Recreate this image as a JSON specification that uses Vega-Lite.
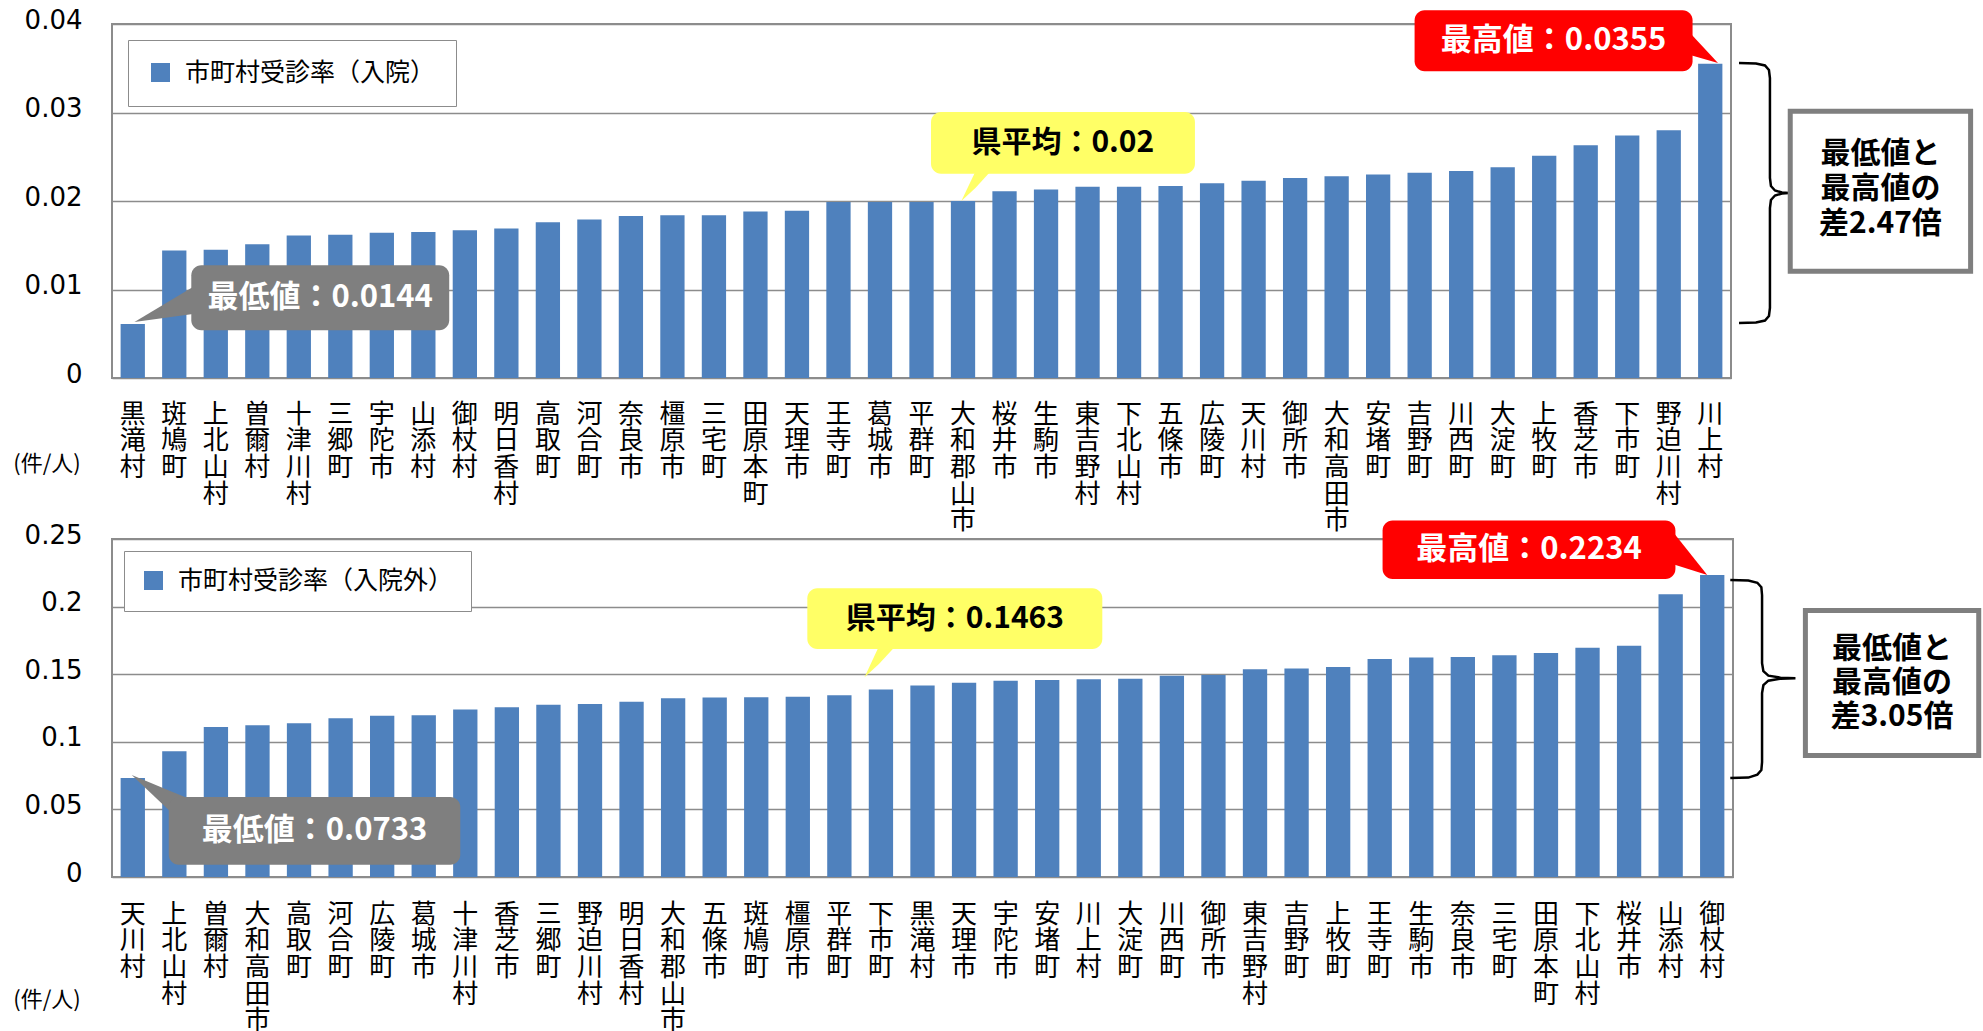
{
  "$schema": "https://vega.github.io/schema/vega-lite/v6.json",
  "autosize": {"type": "pad"},
  "padding": {"left": 12, "top": 6, "right": 0, "bottom": 0},
  "background": "white",
  "spacing": 161,
  "bounds": "flush",
  "resolve": {"scale": {"color": "independent"}, "legend": {"color": "independent"}},
  "config": {
    "view": {"stroke": "#8c8c8c", "strokeWidth": 2},
    "text": {"font": "Noto Sans CJK JP"}
  },
  "vconcat": [
    {
      "width": 1619,
      "height": 354,
      "resolve": {"scale": {"x": "independent"}},
      "layer": [
        {
          "data": {"values": [
            {"name": "黒滝村", "v": 0.0061},
            {"name": "斑鳩町", "v": 0.0144},
            {"name": "上北山村", "v": 0.0145},
            {"name": "曽爾村", "v": 0.0151},
            {"name": "十津川村", "v": 0.0161},
            {"name": "三郷町", "v": 0.0162},
            {"name": "宇陀市", "v": 0.0164},
            {"name": "山添村", "v": 0.0165},
            {"name": "御杖村", "v": 0.0167},
            {"name": "明日香村", "v": 0.0169},
            {"name": "高取町", "v": 0.0176},
            {"name": "河合町", "v": 0.0179},
            {"name": "奈良市", "v": 0.0183},
            {"name": "橿原市", "v": 0.0184},
            {"name": "三宅町", "v": 0.0184},
            {"name": "田原本町", "v": 0.0188},
            {"name": "天理市", "v": 0.0189},
            {"name": "王寺町", "v": 0.0199},
            {"name": "葛城市", "v": 0.0199},
            {"name": "平群町", "v": 0.0199},
            {"name": "大和郡山市", "v": 0.0200},
            {"name": "桜井市", "v": 0.0211},
            {"name": "生駒市", "v": 0.0213},
            {"name": "東吉野村", "v": 0.0216},
            {"name": "下北山村", "v": 0.0216},
            {"name": "五條市", "v": 0.0217},
            {"name": "広陵町", "v": 0.0220},
            {"name": "天川村", "v": 0.0223},
            {"name": "御所市", "v": 0.0226},
            {"name": "大和高田市", "v": 0.0228},
            {"name": "安堵町", "v": 0.0230},
            {"name": "吉野町", "v": 0.0232},
            {"name": "川西町", "v": 0.0234},
            {"name": "大淀町", "v": 0.0238},
            {"name": "上牧町", "v": 0.0251},
            {"name": "香芝市", "v": 0.0263},
            {"name": "下市町", "v": 0.0274},
            {"name": "野迫川村", "v": 0.0280},
            {"name": "川上村", "v": 0.0355}
          ]},
          "mark": {"type": "bar", "color": "#4F81BD"},
          "encoding": {
            "x": {"field": "name", "type": "nominal", "sort": null, "title": null,
              "scale": {"paddingInner": 0.415, "paddingOuter": 0.2075},
              "axis": {"labelAngle": 0, "labelExpr": "split(datum.label, '')", "labelFont": "Noto Sans CJK JP", "labelFontSize": 26, "labelLineHeight": 26.7, "labelBaseline": "top", "labelAlign": "center", "labelPadding": 23, "labelColor": "#000000", "ticks": false, "domain": false, "grid": false, "labelOverlap": false, "labelFlush": false, "labelLimit": 0, "title": null}},
            "y": {"field": "v", "type": "quantitative", "title": null,
              "scale": {"domain": [0, 0.04], "nice": false, "zero": true},
              "axis": {"values": [0, 0.01, 0.02, 0.03, 0.04], "format": "~g", "labelFont": "DejaVu Sans", "labelFontSize": 26, "labelColor": "#000000", "labelPadding": 30, "labelOffset": -4, "ticks": false, "domain": false, "grid": true, "gridColor": "#8c8c8c", "gridWidth": 1.5, "title": null}},
            "color": {"datum": "市町村受診率（入院）", "type": "nominal",
              "scale": {"range": ["#4F81BD"]},
              "legend": {"orient": "top-left", "offset": 16, "title": null, "symbolType": "square", "symbolSize": 361, "symbolStrokeWidth": 0, "labelFont": "Noto Sans CJK JP", "labelFontSize": 25, "labelColor": "#000000", "labelLimit": 600, "labelOffset": 12, "padding": 20, "strokeColor": "#8c8c8c", "fillColor": "#ffffff"}}
          }
        },
        {"mark": {"type": "rule", "color": "#ff0000", "strokeWidth": 4}, "encoding": {"y": {"datum": 0.02, "type": "quantitative"}}},
        {"mark": {"type": "rule", "color": "#ff0000", "strokeWidth": 3.5, "strokeDash": [16, 13]}, "encoding": {"y": {"datum": 0.0355, "type": "quantitative"}}},
        {"mark": {"type": "rule", "color": "#ff0000", "strokeWidth": 3.5, "strokeDash": [17, 12, 4, 12]}, "encoding": {"y": {"datum": 0.0061, "type": "quantitative"}}},
        {
          "data": {"values": [
            {"x": 0.541, "y": 0.006328, "y2": 0.006328},
            {"x": 1.949, "y": 0.010282, "y2": 0.007232}
          ]},
          "mark": {"type": "area", "color": "#7f7f7f"},
          "encoding": {
            "x": {"field": "x", "type": "quantitative", "scale": {"domain": [0, 39], "nice": false, "zero": false}, "axis": null},
            "y": {"field": "y", "type": "quantitative", "scale": {"domain": [0, 0.04], "nice": false}, "title": null},
            "y2": {"field": "y2"}
          }
        },
        {
          "data": {"values": [{"x": 1.910, "x2": 8.123, "y": 0.012734, "y2": 0.005390}]},
          "mark": {"type": "rect", "color": "#7f7f7f", "cornerRadius": 10},
          "encoding": {
            "x": {"field": "x", "type": "quantitative", "scale": {"domain": [0, 39], "nice": false, "zero": false}, "axis": null},
            "x2": {"field": "x2"},
            "y": {"field": "y", "type": "quantitative", "scale": {"domain": [0, 0.04], "nice": false}, "title": null},
            "y2": {"field": "y2"}
          }
        },
        {
          "data": {"values": [
            {"x": 20.460, "y": 0.020000, "y2": 0.020000},
            {"x": 20.804, "y": 0.023390, "y2": 0.021492},
            {"x": 21.172, "y": 0.023390, "y2": 0.023390}
          ]},
          "mark": {"type": "area", "color": "#ffff66"},
          "encoding": {
            "x": {"field": "x", "type": "quantitative", "scale": {"domain": [0, 39], "nice": false, "zero": false}, "axis": null},
            "y": {"field": "y", "type": "quantitative", "scale": {"domain": [0, 0.04], "nice": false}, "title": null},
            "y2": {"field": "y2"}
          }
        },
        {
          "data": {"values": [{"x": 19.729, "x2": 26.087, "y": 0.030056, "y2": 0.023085}]},
          "mark": {"type": "rect", "color": "#ffff66", "cornerRadius": 10},
          "encoding": {
            "x": {"field": "x", "type": "quantitative", "scale": {"domain": [0, 39], "nice": false, "zero": false}, "axis": null},
            "x2": {"field": "x2"},
            "y": {"field": "y", "type": "quantitative", "scale": {"domain": [0, 0.04], "nice": false}, "title": null},
            "y2": {"field": "y2"}
          }
        },
        {
          "data": {"values": [
            {"x": 38.014, "y": 0.038983, "y2": 0.036497},
            {"x": 38.687, "y": 0.035593, "y2": 0.035593}
          ]},
          "mark": {"type": "area", "color": "#ff0000"},
          "encoding": {
            "x": {"field": "x", "type": "quantitative", "scale": {"domain": [0, 39], "nice": false, "zero": false}, "axis": null},
            "y": {"field": "y", "type": "quantitative", "scale": {"domain": [0, 0.04], "nice": false}, "title": null},
            "y2": {"field": "y2"}
          }
        },
        {
          "data": {"values": [{"x": 31.378, "x2": 38.074, "y": 0.041548, "y2": 0.034667}]},
          "mark": {"type": "rect", "color": "#ff0000", "cornerRadius": 10},
          "encoding": {
            "x": {"field": "x", "type": "quantitative", "scale": {"domain": [0, 39], "nice": false, "zero": false}, "axis": null},
            "x2": {"field": "x2"},
            "y": {"field": "y", "type": "quantitative", "scale": {"domain": [0, 0.04], "nice": false}, "title": null},
            "y2": {"field": "y2"}
          }
        },
        {
          "data": {"values": [
            {"x": 5.014, "y": 0.009062, "t": "最低値：0.0144"},
            {"x": 34.727, "y": 0.038113, "t": "最高値：0.0355"}
          ]},
          "mark": {"type": "text", "font": "Noto Sans CJK JP", "fontWeight": "bold", "fontSize": 31, "color": "#ffffff", "align": "center", "baseline": "middle"},
          "encoding": {
            "x": {"field": "x", "type": "quantitative", "scale": {"domain": [0, 39], "nice": false, "zero": false}, "axis": null},
            "y": {"field": "y", "type": "quantitative", "scale": {"domain": [0, 0.04], "nice": false}, "title": null},
            "text": {"field": "t"}
          }
        },
        {
          "data": {"values": [{"x": 22.904, "y": 0.026576, "t": "県平均：0.02"}]},
          "mark": {"type": "text", "font": "Noto Sans CJK JP", "fontWeight": "bold", "fontSize": 30, "color": "#000000", "align": "center", "baseline": "middle"},
          "encoding": {
            "x": {"field": "x", "type": "quantitative", "scale": {"domain": [0, 39], "nice": false, "zero": false}, "axis": null},
            "y": {"field": "y", "type": "quantitative", "scale": {"domain": [0, 0.04], "nice": false}, "title": null},
            "text": {"field": "t"}
          }
        },
        {
          "data": {"values": [
            {"o": 1, "x": 39.193, "y": 0.035593},
            {"o": 2, "x": 39.602, "y": 0.035537},
            {"o": 3, "x": 39.818, "y": 0.035311},
            {"o": 4, "x": 39.914, "y": 0.034802},
            {"o": 5, "x": 39.938, "y": 0.033898},
            {"o": 6, "x": 39.938, "y": 0.022599},
            {"o": 7, "x": 39.962, "y": 0.021695},
            {"o": 8, "x": 40.059, "y": 0.021186},
            {"o": 9, "x": 40.227, "y": 0.020960},
            {"o": 10, "x": 40.396, "y": 0.020904},
            {"o": 11, "x": 40.227, "y": 0.020847},
            {"o": 12, "x": 40.059, "y": 0.020621},
            {"o": 13, "x": 39.962, "y": 0.020113},
            {"o": 14, "x": 39.938, "y": 0.019209},
            {"o": 15, "x": 39.938, "y": 0.007910},
            {"o": 16, "x": 39.914, "y": 0.007006},
            {"o": 17, "x": 39.818, "y": 0.006497},
            {"o": 18, "x": 39.602, "y": 0.006271},
            {"o": 19, "x": 39.193, "y": 0.006215}
          ]},
          "mark": {"type": "line", "color": "#000000", "strokeWidth": 2.5},
          "encoding": {
            "x": {"field": "x", "type": "quantitative", "scale": {"domain": [0, 39], "nice": false, "zero": false}, "axis": null},
            "y": {"field": "y", "type": "quantitative", "scale": {"domain": [0, 0.04], "nice": false}, "title": null},
            "order": {"field": "o", "type": "quantitative"}
          }
        },
        {
          "data": {"values": [{"x": 40.427, "x2": 44.772, "y": 0.030135, "y2": 0.012056}]},
          "mark": {"type": "rect", "fill": "#ffffff", "stroke": "#7f7f7f", "strokeWidth": 5},
          "encoding": {
            "x": {"field": "x", "type": "quantitative", "scale": {"domain": [0, 39], "nice": false, "zero": false}, "axis": null},
            "x2": {"field": "x2"},
            "y": {"field": "y", "type": "quantitative", "scale": {"domain": [0, 0.04], "nice": false}, "title": null},
            "y2": {"field": "y2"}
          }
        },
        {
          "data": {"values": [{"x": 42.599, "y": 0.025344}]},
          "mark": {"type": "text", "font": "Noto Sans CJK JP", "fontWeight": "bold", "fontSize": 30, "lineHeight": 35, "color": "#000000", "align": "center", "baseline": "middle"},
          "encoding": {
            "x": {"field": "x", "type": "quantitative", "scale": {"domain": [0, 39], "nice": false, "zero": false}, "axis": null},
            "y": {"field": "y", "type": "quantitative", "scale": {"domain": [0, 0.04], "nice": false}, "title": null},
            "text": {"value": ["最低値と", "最高値の", "差2.47倍"]}
          }
        },
        {
          "data": {"values": [{"x": -1.566, "y": -0.009684, "t": "(件/人)"}]},
          "mark": {"type": "text", "font": "Noto Sans CJK JP", "fontSize": 22, "color": "#000000", "align": "center", "baseline": "middle"},
          "encoding": {
            "x": {"field": "x", "type": "quantitative", "scale": {"domain": [0, 39], "nice": false, "zero": false}, "axis": null},
            "y": {"field": "y", "type": "quantitative", "scale": {"domain": [0, 0.04], "nice": false}, "title": null},
            "text": {"field": "t"}
          }
        }
      ]
    },
    {
      "width": 1621,
      "height": 338,
      "resolve": {"scale": {"x": "independent"}},
      "layer": [
        {
          "data": {"values": [
            {"name": "天川村", "v": 0.0733},
            {"name": "上北山村", "v": 0.0931},
            {"name": "曽爾村", "v": 0.1109},
            {"name": "大和高田市", "v": 0.1123},
            {"name": "高取町", "v": 0.1138},
            {"name": "河合町", "v": 0.1175},
            {"name": "広陵町", "v": 0.1192},
            {"name": "葛城市", "v": 0.1197},
            {"name": "十津川村", "v": 0.1239},
            {"name": "香芝市", "v": 0.1256},
            {"name": "三郷町", "v": 0.1274},
            {"name": "野迫川村", "v": 0.1279},
            {"name": "明日香村", "v": 0.1296},
            {"name": "大和郡山市", "v": 0.1322},
            {"name": "五條市", "v": 0.1328},
            {"name": "斑鳩町", "v": 0.1330},
            {"name": "橿原市", "v": 0.1333},
            {"name": "平群町", "v": 0.1345},
            {"name": "下市町", "v": 0.1387},
            {"name": "黒滝村", "v": 0.1417},
            {"name": "天理市", "v": 0.1436},
            {"name": "宇陀市", "v": 0.1452},
            {"name": "安堵町", "v": 0.1458},
            {"name": "川上村", "v": 0.1462},
            {"name": "大淀町", "v": 0.1466},
            {"name": "川西町", "v": 0.1488},
            {"name": "御所市", "v": 0.1495},
            {"name": "東吉野村", "v": 0.1537},
            {"name": "吉野町", "v": 0.1542},
            {"name": "上牧町", "v": 0.1554},
            {"name": "王寺町", "v": 0.1613},
            {"name": "生駒市", "v": 0.1623},
            {"name": "奈良市", "v": 0.1628},
            {"name": "三宅町", "v": 0.1641},
            {"name": "田原本町", "v": 0.1656},
            {"name": "下北山村", "v": 0.1695},
            {"name": "桜井市", "v": 0.1710},
            {"name": "山添村", "v": 0.2092},
            {"name": "御杖村", "v": 0.2234}
          ]},
          "mark": {"type": "bar", "color": "#4F81BD"},
          "encoding": {
            "x": {"field": "name", "type": "nominal", "sort": null, "title": null,
              "scale": {"paddingInner": 0.415, "paddingOuter": 0.2075},
              "axis": {"labelAngle": 0, "labelExpr": "split(datum.label, '')", "labelFont": "Noto Sans CJK JP", "labelFontSize": 26, "labelLineHeight": 26.7, "labelBaseline": "top", "labelAlign": "center", "labelPadding": 24, "labelColor": "#000000", "ticks": false, "domain": false, "grid": false, "labelOverlap": false, "labelFlush": false, "labelLimit": 0, "title": null}},
            "y": {"field": "v", "type": "quantitative", "title": null,
              "scale": {"domain": [0, 0.25], "nice": false, "zero": true},
              "axis": {"values": [0, 0.05, 0.1, 0.15, 0.2, 0.25], "format": "~g", "labelFont": "DejaVu Sans", "labelFontSize": 26, "labelColor": "#000000", "labelPadding": 30, "labelOffset": -4, "ticks": false, "domain": false, "grid": true, "gridColor": "#8c8c8c", "gridWidth": 1.5, "title": null}},
            "color": {"datum": "市町村受診率（入院外）", "type": "nominal",
              "scale": {"range": ["#4F81BD"]},
              "legend": {"orient": "top-left", "offset": 12, "title": null, "symbolType": "square", "symbolSize": 361, "symbolStrokeWidth": 0, "labelFont": "Noto Sans CJK JP", "labelFontSize": 25, "labelColor": "#000000", "labelLimit": 600, "labelOffset": 12, "padding": 17, "strokeColor": "#8c8c8c", "fillColor": "#ffffff"}}
          }
        },
        {"mark": {"type": "rule", "color": "#ff0000", "strokeWidth": 4}, "encoding": {"y": {"datum": 0.1463, "type": "quantitative"}}},
        {"mark": {"type": "rule", "color": "#ff0000", "strokeWidth": 3.5, "strokeDash": [16, 13]}, "encoding": {"y": {"datum": 0.2234, "type": "quantitative"}}},
        {"mark": {"type": "rule", "color": "#ff0000", "strokeWidth": 3.5, "strokeDash": [17, 12, 4, 12]}, "encoding": {"y": {"datum": 0.0733, "type": "quantitative"}}},
        {
          "data": {"values": [
            {"x": 0.475, "y": 0.075377, "y2": 0.075377},
            {"x": 1.415, "y": 0.048034, "y2": 0.063479},
            {"x": 1.872, "y": 0.057641, "y2": 0.057641}
          ]},
          "mark": {"type": "area", "color": "#7f7f7f"},
          "encoding": {
            "x": {"field": "x", "type": "quantitative", "scale": {"domain": [0, 39], "nice": false, "zero": false}, "axis": null},
            "y": {"field": "y", "type": "quantitative", "scale": {"domain": [0, 0.25], "nice": false}, "title": null},
            "y2": {"field": "y2"}
          }
        },
        {
          "data": {"values": [{"x": 1.366, "x2": 8.379, "y": 0.059119, "y2": 0.009090}]},
          "mark": {"type": "rect", "color": "#7f7f7f", "cornerRadius": 10},
          "encoding": {
            "x": {"field": "x", "type": "quantitative", "scale": {"domain": [0, 39], "nice": false, "zero": false}, "axis": null},
            "x2": {"field": "x2"},
            "y": {"field": "y", "type": "quantitative", "scale": {"domain": [0, 0.25], "nice": false}, "title": null},
            "y2": {"field": "y2"}
          }
        },
        {
          "data": {"values": [
            {"x": 18.105, "y": 0.147798, "y2": 0.147798},
            {"x": 18.452, "y": 0.170706, "y2": 0.157552},
            {"x": 18.847, "y": 0.170706, "y2": 0.170706}
          ]},
          "mark": {"type": "area", "color": "#ffff66"},
          "encoding": {
            "x": {"field": "x", "type": "quantitative", "scale": {"domain": [0, 39], "nice": false, "zero": false}, "axis": null},
            "y": {"field": "y", "type": "quantitative", "scale": {"domain": [0, 0.25], "nice": false}, "title": null},
            "y2": {"field": "y2"}
          }
        },
        {
          "data": {"values": [{"x": 16.729, "x2": 23.826, "y": 0.213568, "y2": 0.168711}]},
          "mark": {"type": "rect", "color": "#ffff66", "cornerRadius": 10},
          "encoding": {
            "x": {"field": "x", "type": "quantitative", "scale": {"domain": [0, 39], "nice": false, "zero": false}, "axis": null},
            "x2": {"field": "x2"},
            "y": {"field": "y", "type": "quantitative", "scale": {"domain": [0, 0.25], "nice": false}, "title": null},
            "y2": {"field": "y2"}
          }
        },
        {
          "data": {"values": [
            {"x": 37.562, "y": 0.254951, "y2": 0.231304},
            {"x": 38.381, "y": 0.223396, "y2": 0.223396}
          ]},
          "mark": {"type": "area", "color": "#ff0000"},
          "encoding": {
            "x": {"field": "x", "type": "quantitative", "scale": {"domain": [0, 39], "nice": false, "zero": false}, "axis": null},
            "y": {"field": "y", "type": "quantitative", "scale": {"domain": [0, 0.25], "nice": false}, "title": null},
            "y2": {"field": "y2"}
          }
        },
        {
          "data": {"values": [{"x": 30.569, "x2": 37.615, "y": 0.263597, "y2": 0.220440}]},
          "mark": {"type": "rect", "color": "#ff0000", "cornerRadius": 10},
          "encoding": {
            "x": {"field": "x", "type": "quantitative", "scale": {"domain": [0, 39], "nice": false, "zero": false}, "axis": null},
            "x2": {"field": "x2"},
            "y": {"field": "y", "type": "quantitative", "scale": {"domain": [0, 0.25], "nice": false}, "title": null},
            "y2": {"field": "y2"}
          }
        },
        {
          "data": {"values": [
            {"x": 4.873, "y": 0.034067, "t": "最低値：0.0733"},
            {"x": 34.092, "y": 0.242019, "t": "最高値：0.2234"}
          ]},
          "mark": {"type": "text", "font": "Noto Sans CJK JP", "fontWeight": "bold", "fontSize": 31, "color": "#ffffff", "align": "center", "baseline": "middle"},
          "encoding": {
            "x": {"field": "x", "type": "quantitative", "scale": {"domain": [0, 39], "nice": false, "zero": false}, "axis": null},
            "y": {"field": "y", "type": "quantitative", "scale": {"domain": [0, 0.25], "nice": false}, "title": null},
            "text": {"field": "t"}
          }
        },
        {
          "data": {"values": [{"x": 20.279, "y": 0.191177, "t": "県平均：0.1463"}]},
          "mark": {"type": "text", "font": "Noto Sans CJK JP", "fontWeight": "bold", "fontSize": 30, "color": "#000000", "align": "center", "baseline": "middle"},
          "encoding": {
            "x": {"field": "x", "type": "quantitative", "scale": {"domain": [0, 39], "nice": false, "zero": false}, "axis": null},
            "y": {"field": "y", "type": "quantitative", "scale": {"domain": [0, 0.25], "nice": false}, "title": null},
            "text": {"field": "t"}
          }
        },
        {
          "data": {"values": [
            {"o": 1, "x": 38.935, "y": 0.219701},
            {"o": 2, "x": 39.369, "y": 0.219332},
            {"o": 3, "x": 39.586, "y": 0.217632},
            {"o": 4, "x": 39.682, "y": 0.214307},
            {"o": 5, "x": 39.699, "y": 0.208395},
            {"o": 6, "x": 39.699, "y": 0.158144},
            {"o": 7, "x": 39.731, "y": 0.152232},
            {"o": 8, "x": 39.851, "y": 0.148906},
            {"o": 9, "x": 40.141, "y": 0.147428},
            {"o": 10, "x": 40.502, "y": 0.147059},
            {"o": 11, "x": 40.141, "y": 0.146689},
            {"o": 12, "x": 39.851, "y": 0.145211},
            {"o": 13, "x": 39.731, "y": 0.141886},
            {"o": 14, "x": 39.699, "y": 0.135974},
            {"o": 15, "x": 39.699, "y": 0.084984},
            {"o": 16, "x": 39.682, "y": 0.079072},
            {"o": 17, "x": 39.586, "y": 0.075746},
            {"o": 18, "x": 39.369, "y": 0.073529},
            {"o": 19, "x": 38.935, "y": 0.073160}
          ]},
          "mark": {"type": "line", "color": "#000000", "strokeWidth": 2.5},
          "encoding": {
            "x": {"field": "x", "type": "quantitative", "scale": {"domain": [0, 39], "nice": false, "zero": false}, "axis": null},
            "y": {"field": "y", "type": "quantitative", "scale": {"domain": [0, 0.25], "nice": false}, "title": null},
            "order": {"field": "o", "type": "quantitative"}
          }
        },
        {
          "data": {"values": [{"x": 40.742, "x2": 44.912, "y": 0.197088, "y2": 0.089935}]},
          "mark": {"type": "rect", "fill": "#ffffff", "stroke": "#7f7f7f", "strokeWidth": 5},
          "encoding": {
            "x": {"field": "x", "type": "quantitative", "scale": {"domain": [0, 39], "nice": false, "zero": false}, "axis": null},
            "x2": {"field": "x2"},
            "y": {"field": "y", "type": "quantitative", "scale": {"domain": [0, 0.25], "nice": false}, "title": null},
            "y2": {"field": "y2"}
          }
        },
        {
          "data": {"values": [{"x": 42.827, "y": 0.168711}]},
          "mark": {"type": "text", "font": "Noto Sans CJK JP", "fontWeight": "bold", "fontSize": 30, "lineHeight": 34, "color": "#000000", "align": "center", "baseline": "middle"},
          "encoding": {
            "x": {"field": "x", "type": "quantitative", "scale": {"domain": [0, 39], "nice": false, "zero": false}, "axis": null},
            "y": {"field": "y", "type": "quantitative", "scale": {"domain": [0, 0.25], "nice": false}, "title": null},
            "text": {"value": ["最低値と", "最高値の", "差3.05倍"]}
          }
        },
        {
          "data": {"values": [{"x": -1.564, "y": -0.090896, "t": "(件/人)"}]},
          "mark": {"type": "text", "font": "Noto Sans CJK JP", "fontSize": 22, "color": "#000000", "align": "center", "baseline": "middle"},
          "encoding": {
            "x": {"field": "x", "type": "quantitative", "scale": {"domain": [0, 39], "nice": false, "zero": false}, "axis": null},
            "y": {"field": "y", "type": "quantitative", "scale": {"domain": [0, 0.25], "nice": false}, "title": null},
            "text": {"field": "t"}
          }
        }
      ]
    }
  ]
}
